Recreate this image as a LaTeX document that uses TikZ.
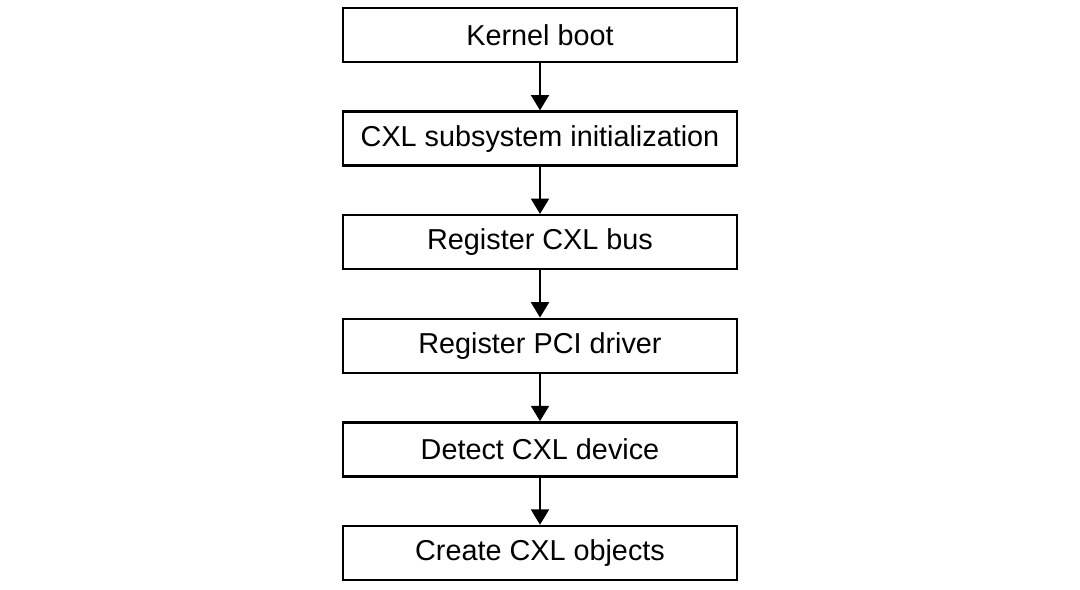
\documentclass[tikz,border=0pt]{standalone}
\usepackage{fontspec}
\setmainfont{Liberation Sans}
\usepackage{tikz}
\usetikzlibrary{arrows.meta, positioning}

\begin{document}
\begin{tikzpicture}[
  node distance = 35.3pt,
  stepbox/.style = {
    rectangle, draw, line width=1.9pt,
    minimum width=295.5pt, minimum height=40.5pt,
    text centered, font=\fontsize{21.6}{26}\selectfont
  },
  arrow/.style = {-{Triangle[length=11.5pt, width=13.5pt]}, line width=1.5pt}
]

\useasboundingbox (-405pt,26.25pt) rectangle (405pt,-415.5pt);

% Boot sequence
\node[stepbox] (boot) at (0,0) {Kernel boot};
\node[stepbox, below=of boot] (subsys) {CXL subsystem initialization};
\node[stepbox, below=of subsys] (bus) {Register CXL bus};
\node[stepbox, below=of bus] (pcidrv) {Register PCI driver};
\node[stepbox, below=of pcidrv] (detect) {Detect CXL device};
\node[stepbox, below=of detect] (objects) {Create CXL objects};

\draw[arrow] (boot) -- (subsys);
\draw[arrow] (subsys) -- (bus);
\draw[arrow] (bus) -- (pcidrv);
\draw[arrow] (pcidrv) -- (detect);
\draw[arrow] (detect) -- (objects);

\end{tikzpicture}
\end{document}
